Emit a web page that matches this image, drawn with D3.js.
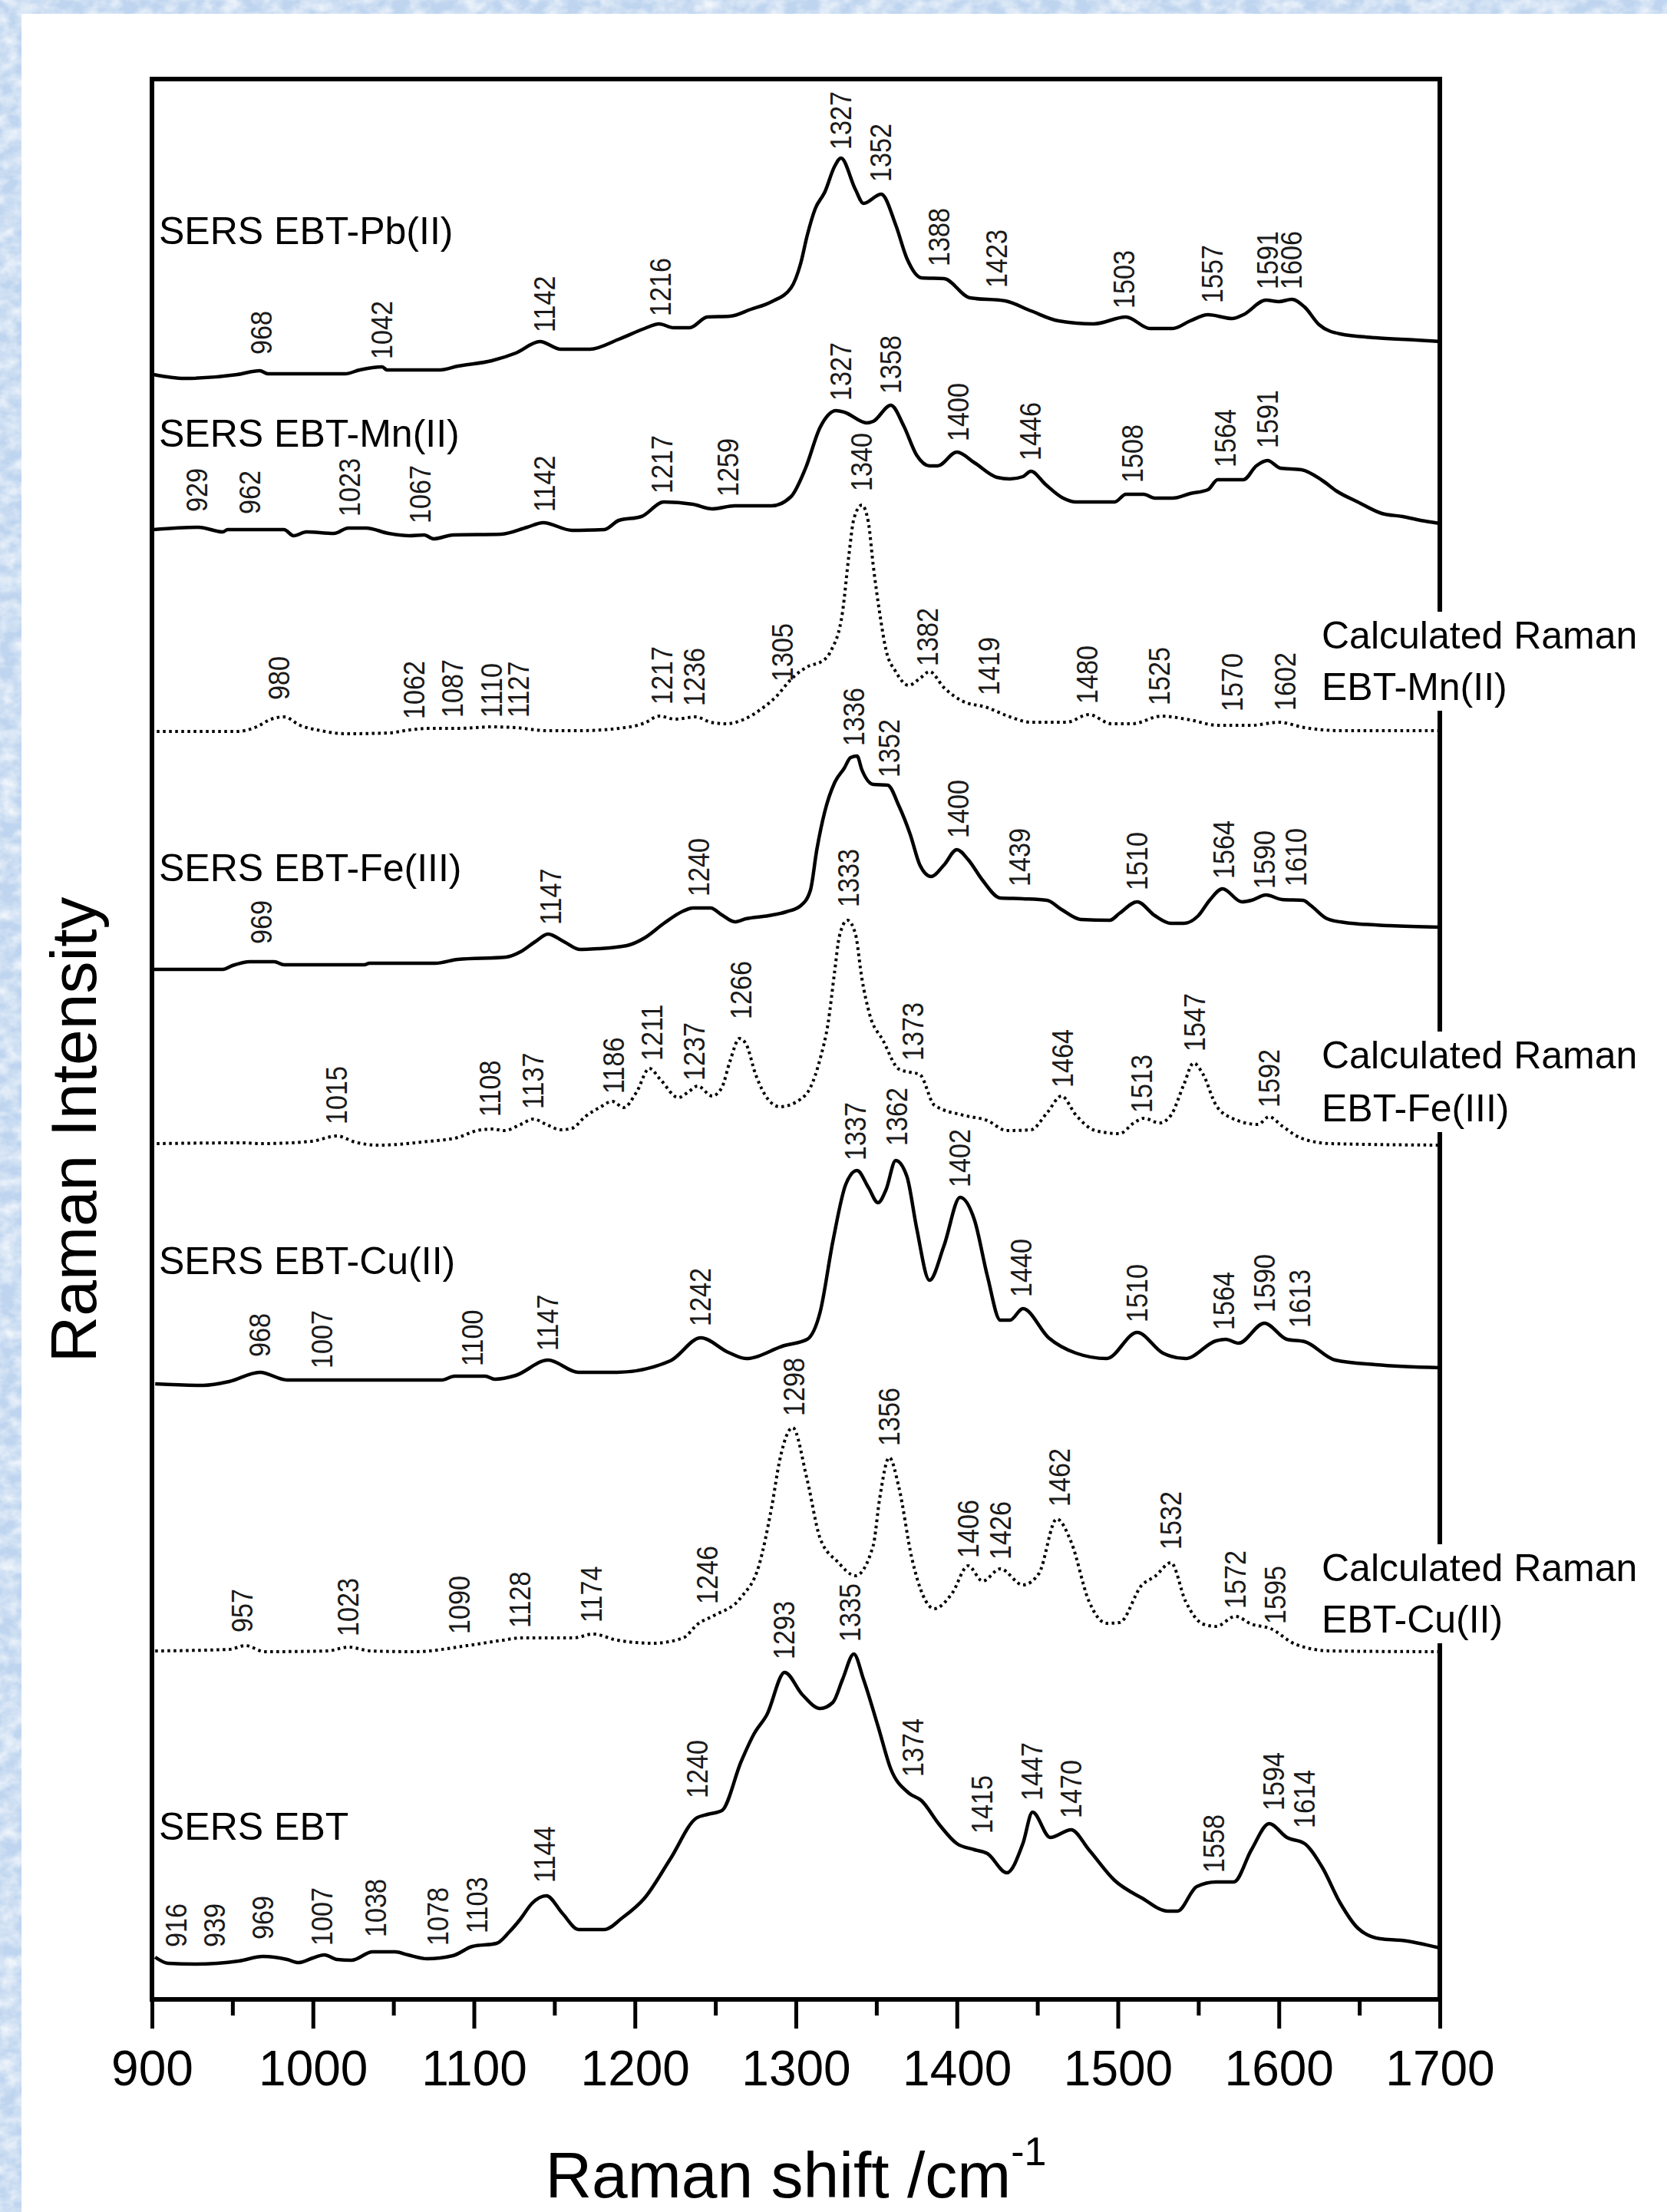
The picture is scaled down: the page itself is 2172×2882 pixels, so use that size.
<!DOCTYPE html>
<html><head><meta charset="utf-8">
<script src="https://cdn.jsdelivr.net/npm/d3@7"></script>
<style>html,body{margin:0;padding:0;background:#fff;} svg{display:block;}</style>
</head><body>
<svg id="chart" width="2172" height="2882"></svg>
<script>
// ---------------- DATA ----------------
// x: Raman shift (cm-1); y: stacked Raman intensity (arbitrary units)
const xMajorTicks = [900, 1000, 1100, 1200, 1300, 1400, 1500, 1600, 1700];
const xMinorTicks = [950, 1050, 1150, 1250, 1350, 1450, 1550, 1650];

const seriesNames = ["SERS EBT-Pb(II)", "SERS EBT-Mn(II)", "Calculated Raman|EBT-Mn(II)", "SERS EBT-Fe(III)",
                     "Calculated Raman|EBT-Fe(III)", "SERS EBT-Cu(II)", "Calculated Raman|EBT-Cu(II)", "SERS EBT"];

const pbSERS = [[901,2117],[920,2112],[953,2117],[967,2122],[972,2118],[1020,2118],[1029,2123],[1043,2127],[1046,2123],
 [1079,2123],[1090,2128],[1111,2135],[1126,2145],[1141,2160],[1154,2150],[1172,2150],[1190,2163],[1206,2177],[1215,2183],
 [1224,2178],[1234,2178],[1245,2192],[1259,2193],[1272,2202],[1285,2212],[1297,2230],[1303,2262],[1307,2298],[1312,2333],
 [1318,2355],[1324,2388],[1328,2399],[1337,2358],[1342,2340],[1353,2352],[1362,2312],[1369,2268],[1378,2243],[1392,2242],
 [1408,2217],[1430,2213],[1446,2200],[1463,2187],[1485,2183],[1505,2192],[1520,2177],[1534,2177],[1545,2187],[1556,2195],
 [1571,2190],[1578,2195],[1592,2214],[1600,2212],[1608,2215],[1616,2205],[1625,2182],[1638,2170],[1660,2165],[1685,2162],[1700,2160]];

const mnSERS = [[901,1915],[929,1918],[944,1912],[947,1915],[982,1915],[988,1907],[996,1912],[1013,1910],[1022,1917],
 [1033,1917],[1047,1910],[1060,1907],[1069,1908],[1075,1903],[1087,1908],[1117,1909],[1133,1918],[1143,1924],[1161,1914],
 [1181,1915],[1190,1927],[1204,1932],[1218,1951],[1236,1948],[1248,1942],[1262,1946],[1285,1946],[1297,1958],[1306,1995],
 [1315,2048],[1325,2070],[1330,2068],[1344,2054],[1348,2056],[1359,2077],[1367,2050],[1375,2012],[1383,1998],[1388,1998],
 [1400,2016],[1411,2002],[1425,1983],[1433,1981],[1441,1984],[1446,1991],[1455,1974],[1466,1956],[1474,1951],[1498,1951],
 [1505,1961],[1516,1961],[1523,1956],[1534,1956],[1545,1962],[1556,1967],[1562,1980],[1578,1980],[1586,1998],[1593,2005],
 [1601,1995],[1614,1993],[1627,1979],[1636,1965],[1649,1951],[1664,1936],[1677,1932],[1688,1927],[1700,1923]];

const mnCalc = [[903,1652],[953,1652],[965,1658],[974,1668],[982,1671],[992,1660],[1005,1653],[1020,1649],[1047,1650],
 [1060,1654],[1072,1656],[1090,1656],[1111,1658],[1126,1657],[1145,1653],[1166,1653],[1197,1658],[1206,1663],[1215,1672],
 [1225,1668],[1238,1671],[1247,1664],[1257,1662],[1268,1668],[1279,1682],[1288,1698],[1297,1720],[1306,1735],[1318,1746],
 [1322,1758],[1329,1808],[1333,1883],[1336,1929],[1341,1947],[1345,1925],[1348,1869],[1352,1807],[1356,1758],[1362,1730],
 [1370,1712],[1377,1721],[1383,1730],[1392,1709],[1403,1692],[1419,1683],[1433,1671],[1446,1664],[1468,1664],[1482,1674],
 [1496,1662],[1509,1662],[1527,1672],[1545,1667],[1562,1660],[1583,1660],[1600,1664],[1616,1657],[1638,1653],[1700,1653]];

const feSERS = [[901,1342],[944,1342],[950,1347],[961,1352],[976,1352],[982,1348],[1032,1348],[1035,1350],[1076,1350],
 [1090,1355],[1120,1358],[1129,1365],[1138,1378],[1146,1388],[1156,1378],[1166,1368],[1177,1369],[1195,1373],[1206,1383],
 [1218,1402],[1230,1418],[1236,1422],[1247,1422],[1254,1413],[1262,1404],[1269,1408],[1283,1412],[1294,1417],[1303,1425],
 [1309,1445],[1313,1498],[1318,1548],[1324,1585],[1330,1604],[1334,1618],[1338,1620],[1341,1602],
 [1348,1583],[1357,1582],[1364,1555],[1371,1518],[1377,1478],[1384,1463],[1392,1478],[1400,1498],[1407,1485],[1416,1458],
 [1427,1435],[1441,1434],[1456,1432],[1465,1420],[1477,1407],[1495,1406],[1501,1415],[1512,1430],[1523,1412],[1533,1402],
 [1541,1402],[1550,1412],[1557,1432],[1565,1447],[1577,1430],[1583,1432],[1592,1439],[1602,1433],[1615,1432],[1620,1425],
 [1630,1408],[1641,1403],[1669,1399],[1700,1397]];

const feCalc = [[903,1115],[956,1116],[968,1115],[999,1118],[1015,1125],[1026,1117],[1041,1113],[1072,1118],[1090,1123],
 [1102,1132],[1111,1134],[1119,1132],[1129,1140],[1137,1147],[1145,1140],[1154,1133],[1161,1135],[1169,1150],[1178,1162],
 [1186,1170],[1193,1162],[1201,1182],[1209,1213],[1216,1198],[1227,1175],[1233,1182],[1239,1190],[1248,1177],[1254,1188],
 [1259,1222],[1265,1252],[1269,1245],[1275,1205],[1283,1172],[1290,1163],[1303,1173],[1309,1188],[1315,1225],[1320,1272],
 [1324,1338],[1327,1385],[1332,1406],[1337,1388],[1341,1330],[1346,1282],[1354,1250],[1364,1212],[1371,1208],[1377,1205],
 [1386,1165],[1404,1152],[1419,1145],[1431,1132],[1446,1133],[1456,1155],[1465,1177],[1474,1152],[1486,1132],[1501,1128],
 [1510,1142],[1516,1148],[1526,1142],[1533,1152],[1541,1192],[1547,1220],[1553,1205],[1561,1165],[1571,1148],[1587,1140],
 [1594,1150],[1602,1138],[1614,1122],[1632,1115],[1700,1113]];

const cuSERS = [[902,802],[932,800],[948,805],[967,817],[984,807],[1080,807],[1088,812],[1107,812],[1113,808],[1126,813],
 [1146,833],[1165,817],[1189,817],[1222,832],[1241,862],[1258,843],[1269,835],[1293,852],[1307,860],[1315,895],[1323,988],
 [1331,1062],[1338,1080],[1345,1058],[1351,1038],[1356,1055],[1362,1093],[1369,1072],[1375,1005],[1383,937],[1392,982],
 [1402,1045],[1411,1015],[1419,942],[1427,885],[1433,885],[1441,900],[1457,862],[1474,842],[1493,835],[1512,869],[1528,842],
 [1542,835],[1561,858],[1567,860],[1575,855],[1591,881],[1605,860],[1616,857],[1635,833],[1660,827],[1700,823]];

const cuCalc = [[902,454],[948,456],[958,461],[970,453],[1009,454],[1022,459],[1036,454],[1063,453],[1096,461],[1118,468],
 [1129,471],[1162,471],[1174,476],[1189,468],[1211,464],[1230,471],[1239,489],[1249,500],[1266,524],[1277,565],[1285,642],
 [1290,703],[1298,745],[1307,677],[1315,601],[1326,570],[1337,552],[1348,591],[1352,652],[1358,706],[1364,667],[1372,575],
 [1386,509],[1397,529],[1407,565],[1416,545],[1427,561],[1441,540],[1451,555],[1462,626],[1471,596],[1482,519],[1493,490],
 [1501,491],[1515,540],[1523,551],[1533,569],[1542,519],[1553,489],[1561,486],[1573,499],[1583,489],[1595,483],[1610,463],
 [1632,454],[1700,453]];

const ebtSERS = [[902,55],[910,47],[927,46],[954,50],[969,56],[984,52],[991,48],[1000,54],[1007,58],[1015,52],[1024,51],
 [1037,62],[1051,62],[1059,58],[1071,53],[1087,57],[1099,69],[1114,73],[1122,88],[1129,105],[1136,125],[1145,135],[1155,112],
 [1165,91],[1181,91],[1192,106],[1206,132],[1222,183],[1238,236],[1245,241],[1254,246],[1266,310],[1274,346],[1282,371],
 [1293,426],[1304,397],[1315,379],[1323,387],[1329,417],[1336,450],[1342,417],[1351,356],[1359,300],[1370,269],[1378,259],
 [1389,228],[1400,203],[1411,195],[1419,190],[1431,165],[1441,203],[1447,244],[1458,211],[1471,221],[1482,195],[1498,155],
 [1515,132],[1531,115],[1537,115],[1549,147],[1561,153],[1572,153],[1583,195],[1594,229],[1605,211],[1616,203],[1627,172],
 [1638,126],[1649,93],[1663,79],[1676,77],[1700,67]];

// peak annotations: [label, position (cm-1), intensity at label foot]
const pbPeaks = [["968",968,2143],["1042",1043,2137],["1142",1144,2172],["1216",1216,2193],["1327",1328,2410],["1352",1353,2368],
 ["1388",1389,2258],["1423",1425,2230],["1503",1504,2203],["1557",1559,2210],["1591",1593,2228],["1606",1608,2228]];
const mnPeaks = [["929",928,1938],["962",961,1935],["1023",1023,1932],["1067",1067,1923],["1142",1144,1938],["1217",1217,1962],
 ["1259",1258,1958],["1327",1328,2083],["1358",1359,2092],["1400",1401,2030],["1446",1446,2005],["1508",1509,1976],
 ["1564",1567,1996],["1591",1593,2021]];
const mnCalcPeaks = [["980",979,1693],["1062",1063,1668],["1087",1087,1670],["1110",1111,1670],["1127",1128,1670],["1217",1217,1687],
 ["1236",1237,1685],["1305",1292,1717],["1340",1341,1965],["1382",1382,1737],["1419",1420,1699],["1480",1481,1688],
 ["1525",1526,1686],["1570",1571,1678],["1602",1604,1679]];
const fePeaks = [["969",968,1375],["1147",1148,1400],["1240",1240,1437],["1336",1336,1633],["1352",1358,1592],["1400",1401,1513],
 ["1439",1439,1450],["1510",1512,1445],["1564",1566,1460],["1590",1591,1447],["1610",1611,1450]];
const feCalcPeaks = [["1015",1015,1140],["1108",1110,1150],["1137",1137,1160],["1186",1187,1180],["1211",1211,1223],["1237",1237,1197],
 ["1266",1266,1277],["1333",1333,1423],["1373",1373,1223],["1464",1466,1188],["1513",1515,1155],["1547",1548,1235],["1592",1594,1162]];
const cuPeaks = [["968",967,837],["1007",1006,822],["1100",1099,825],["1147",1146,845],["1242",1241,877],["1337",1337,1093],
 ["1362",1363,1112],["1402",1402,1058],["1440",1440,915],["1510",1512,882],["1564",1566,872],["1590",1591,895],["1613",1613,875]];
const cuCalcPeaks = [["957",956,478],["1023",1022,473],["1090",1091,476],["1128",1129,484],["1174",1173,491],["1246",1245,515],
 ["1298",1299,760],["1356",1358,721],["1406",1407,575],["1426",1427,573],["1462",1464,642],["1532",1533,586],["1572",1573,509],["1595",1598,489]];
const ebtPeaks = [["916",915,68],["939",939,68],["969",969,78],["1007",1006,70],["1038",1039,81],["1078",1078,70],["1103",1102,86],
 ["1144",1144,152],["1240",1239,262],["1293",1293,443],["1335",1334,466],["1374",1373,290],["1415",1416,216],["1447",1447,259],
 ["1470",1471,236],["1558",1560,165],["1594",1597,246],["1614",1616,223]];

// ---------------- CHART ----------------
const FONT = "'Liberation Sans', Arial, Helvetica, sans-serif";
const W = 2172, H = 2882;
const plot = {left: 198, right: 1876, top: 103, bottom: 2605};
const x = d3.scaleLinear().domain([900, 1700]).range([plot.left, plot.right]);
const y = d3.scaleLinear().domain([0, 2502]).range([plot.bottom, plot.top]);

const svg = d3.select("#chart").attr("viewBox", `0 0 ${W} ${H}`);
svg.append("rect").attr("width", W).attr("height", H).attr("fill", "#fff");

// textured blue border
const defs = svg.append("defs");
const flt = defs.append("filter").attr("id", "tex").attr("x", 0).attr("y", 0).attr("width", 1).attr("height", 1);
flt.append("feTurbulence").attr("type", "fractalNoise").attr("baseFrequency", "0.045 0.06").attr("numOctaves", 3).attr("seed", 7).attr("result", "n");
flt.append("feColorMatrix").attr("in", "n").attr("type", "matrix")
  .attr("values", "0 0 0 0 1  0 0 0 0 1  0 0 0 0 1  0 0 0 1.4 -0.45");
const strips = [[0, 0, W, 18], [0, 0, 28, H]];
strips.forEach(s => {
  svg.append("rect").attr("x", s[0]).attr("y", s[1]).attr("width", s[2]).attr("height", s[3]).attr("fill", "#bfd5ef");
  svg.append("rect").attr("x", s[0]).attr("y", s[1]).attr("width", s[2]).attr("height", s[3]).attr("filter", "url(#tex)");
});

// axes ticks
const gx = svg.append("g").attr("transform", `translate(0,${plot.bottom})`);
gx.call(d3.axisBottom(x).tickValues(xMajorTicks).tickSize(38).tickPadding(29).tickFormat(d3.format("d")));
const gm = svg.append("g").attr("transform", `translate(0,${plot.bottom})`);
gm.call(d3.axisBottom(x).tickValues(xMinorTicks).tickSize(21).tickFormat(""));
[gx, gm].forEach(g => {
  g.select(".domain").remove();
  g.selectAll(".tick line").attr("stroke", "#000").attr("stroke-width", 5);
});
gx.selectAll(".tick text").attr("font-family", FONT).attr("font-size", 64).attr("fill", "#000");

// spectra
const line = d3.line().x(d => x(d[0])).y(d => y(d[1])).curve(d3.curveMonotoneX);
const spectra = [pbSERS, mnSERS, mnCalc, feSERS, feCalc, cuSERS, cuCalc, ebtSERS];
const dotted = [false, false, true, false, true, false, true, false];
spectra.forEach((s, i) => {
  svg.append("path").attr("d", line(s)).attr("fill", "none").attr("stroke", "#000")
    .attr("stroke-width", dotted[i] ? 4 : 4.5)
    .attr("stroke-linejoin", "round")
    .attr("stroke-dasharray", dotted[i] ? "3.5 4.5" : null);
});

// peak labels
const peakSets = [pbPeaks, mnPeaks, mnCalcPeaks, fePeaks, feCalcPeaks, cuPeaks, cuCalcPeaks, ebtPeaks];
peakSets.forEach(ps => {
  svg.append("g").selectAll("text").data(ps).join("text")
    .attr("transform", d => `translate(${x(d[1])},${y(d[2])}) rotate(-90) scale(0.9,1)`)
    .attr("dominant-baseline", "central")
    .attr("text-anchor", "start")
    .attr("font-family", FONT).attr("font-size", 38).attr("fill", "#1a1a1a")
    .text(d => d[0]);
});

// series names
const nameBase = [318, 582, [845, 912], 1148, [1392, 1461], 1660, [2060, 2127], 2397];
seriesNames.forEach((nm, i) => {
  const parts = nm.split("|");
  if (parts.length === 1) {
    svg.append("text").attr("x", 207).attr("y", nameBase[i]).attr("font-family", FONT)
      .attr("font-size", 50).attr("fill", "#000").text(nm);
  } else {
    const b = nameBase[i];
    svg.append("rect").attr("x", 1712).attr("y", b[0] - 48).attr("width", 440).attr("height", b[1] - b[0] + 62).attr("fill", "#fff");
    parts.forEach((p, k) => {
      svg.append("text").attr("x", 1722).attr("y", b[k]).attr("font-family", FONT)
        .attr("font-size", 50).attr("fill", "#000").text(p);
    });
  }
});

// frame (under the label boxes so they interrupt the right edge)
svg.insert("rect", "g").attr("x", plot.left).attr("y", plot.top).attr("width", plot.right - plot.left)
  .attr("height", plot.bottom - plot.top).attr("fill", "none").attr("stroke", "#000").attr("stroke-width", 6);

// axis titles
const xt = svg.append("text").attr("x", (plot.left + plot.right) / 2).attr("y", 2863).attr("text-anchor", "middle")
  .attr("font-family", FONT).attr("font-size", 84).attr("fill", "#000");
xt.append("tspan").text("Raman shift /cm");
xt.append("tspan").attr("dy", -42).attr("font-size", 52).text("-1");
svg.append("text").attr("transform", `translate(125,1472) rotate(-90)`).attr("text-anchor", "middle")
  .attr("font-family", FONT).attr("font-size", 84).attr("fill", "#000").text("Raman Intensity");
</script></body></html>
